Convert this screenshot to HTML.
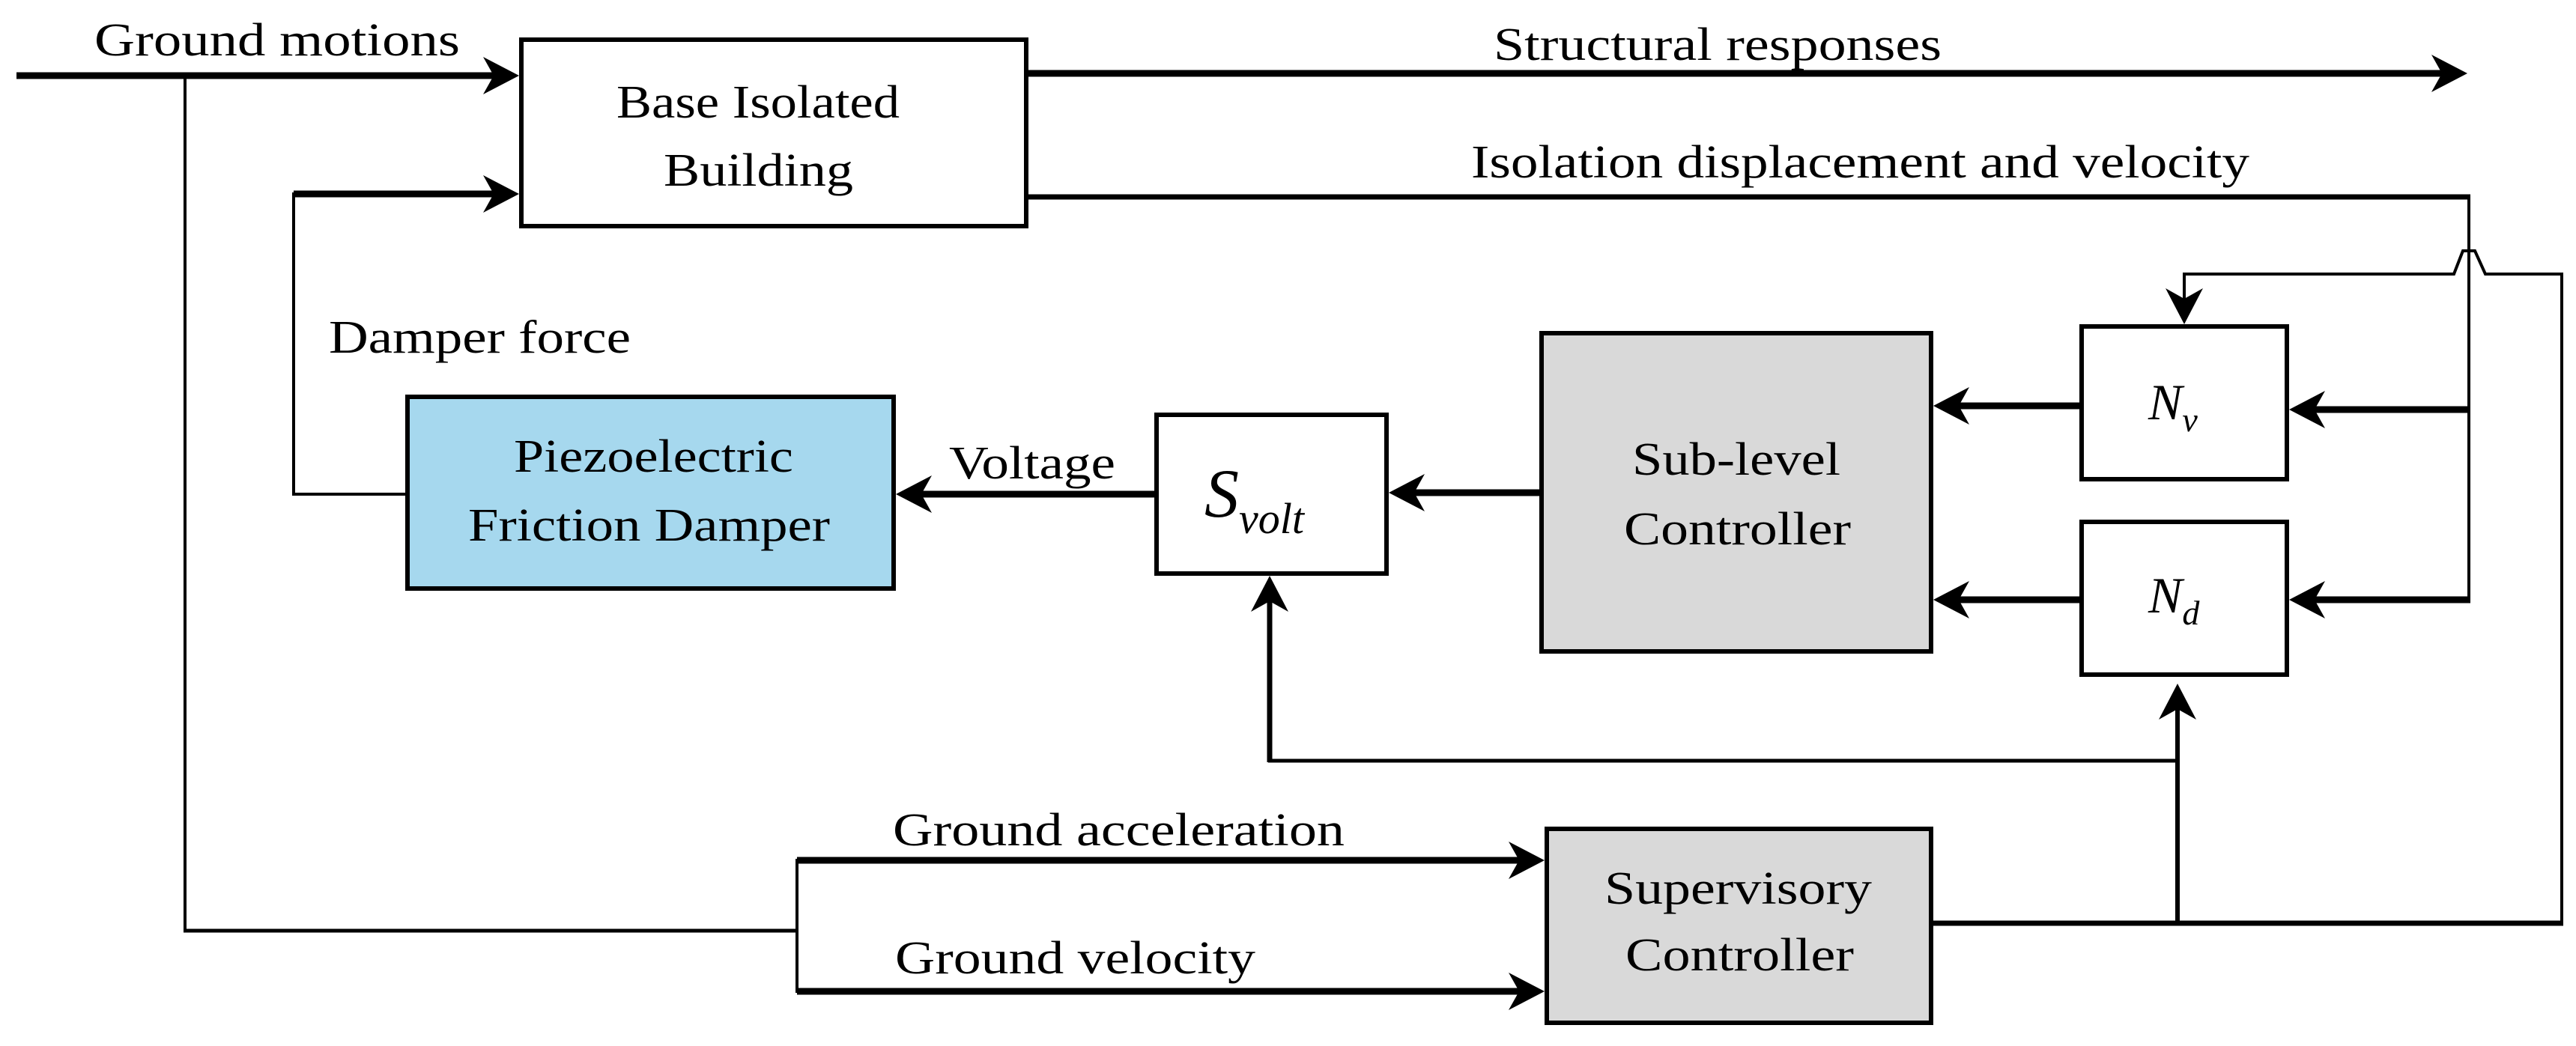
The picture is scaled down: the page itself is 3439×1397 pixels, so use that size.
<!DOCTYPE html>
<html><head><meta charset="utf-8"><style>
html,body{margin:0;padding:0;background:#fff;}
svg{display:block;}
text{font-family:"Liberation Serif",serif;font-size:62px;fill:#000;}
</style></head><body>
<svg width="3439" height="1397" viewBox="0 0 3439 1397" xmlns="http://www.w3.org/2000/svg">
<defs>
<path id="ar" d="M0,0 L-48,-25 L-34,0 L-48,25 Z" fill="#000"/>
</defs>
<g stroke="#000" fill="none" stroke-linecap="butt">
<line x1="22" y1="101" x2="660" y2="101" stroke-width="9"/>
<line x1="392" y1="259" x2="660" y2="259" stroke-width="9"/>
<line x1="1373" y1="98" x2="3260" y2="98" stroke-width="9"/>
<line x1="1373" y1="263" x2="3298" y2="263" stroke-width="7"/>
<line x1="1541" y1="660" x2="1230" y2="660" stroke-width="9"/>
<line x1="2055" y1="658" x2="1888" y2="658" stroke-width="9"/>
<line x1="2776" y1="542" x2="2615" y2="542" stroke-width="9"/>
<line x1="2776" y1="801" x2="2615" y2="801" stroke-width="9"/>
<line x1="3298" y1="547" x2="3090" y2="547" stroke-width="9"/>
<line x1="3298" y1="801" x2="3090" y2="801" stroke-width="9"/>
<line x1="1695" y1="1018" x2="1695" y2="800" stroke-width="7"/>
<line x1="1064" y1="1149" x2="2030" y2="1149" stroke-width="9"/>
<line x1="1064" y1="1324" x2="2030" y2="1324" stroke-width="9"/>
<line x1="2581" y1="1233" x2="3422" y2="1233" stroke-width="7"/>
<line x1="247" y1="101" x2="247" y2="1243" stroke-width="4"/>
<line x1="245" y1="1243" x2="1066" y2="1243" stroke-width="5"/>
<line x1="1064" y1="1147" x2="1064" y2="1326" stroke-width="4"/>
<polyline points="392,257 392,660 541,660" stroke-width="4"/>
<line x1="3296" y1="261" x2="3296" y2="803" stroke-width="4"/>
<polyline points="2916,420 2916,366 3276,366 3288,335 3304,335 3318,366 3420,366 3420,1235" stroke-width="4"/>
<line x1="2907" y1="1235" x2="2907" y2="945" stroke-width="6"/>
<line x1="1693" y1="1016" x2="2909" y2="1016" stroke-width="5"/>
<rect x="696" y="53" width="674" height="249" stroke-width="6" fill="#fff"/>
<rect x="544" y="530" width="649" height="256" stroke-width="6" fill="#a6d8ee"/>
<rect x="1544" y="554" width="307" height="212" stroke-width="6" fill="#fff"/>
<rect x="2058" y="445" width="520" height="425" stroke-width="6" fill="#d9d9d9"/>
<rect x="2779" y="436" width="274" height="204" stroke-width="6" fill="#fff"/>
<rect x="2779" y="697" width="274" height="204" stroke-width="6" fill="#fff"/>
<rect x="2065" y="1107" width="513" height="259" stroke-width="6" fill="#d9d9d9"/>
</g>
<use href="#ar" transform="translate(693,101)"/>
<use href="#ar" transform="translate(693,259)"/>
<use href="#ar" transform="translate(3294,98)"/>
<use href="#ar" transform="translate(2062,1149)"/>
<use href="#ar" transform="translate(2062,1324)"/>
<use href="#ar" transform="translate(1196,660) rotate(180)"/>
<use href="#ar" transform="translate(1854,658) rotate(180)"/>
<use href="#ar" transform="translate(2581,542) rotate(180)"/>
<use href="#ar" transform="translate(2581,801) rotate(180)"/>
<use href="#ar" transform="translate(3056,547) rotate(180)"/>
<use href="#ar" transform="translate(3056,801) rotate(180)"/>
<use href="#ar" transform="translate(2916,433) rotate(90)"/>
<use href="#ar" transform="translate(1695,769) rotate(-90)"/>
<use href="#ar" transform="translate(2907,913) rotate(-90)"/>
<text x="126" y="74" textLength="488" lengthAdjust="spacingAndGlyphs">Ground motions</text>
<text x="1994" y="80" textLength="598" lengthAdjust="spacingAndGlyphs">Structural responses</text>
<text x="1964" y="237" textLength="1039" lengthAdjust="spacingAndGlyphs">Isolation displacement and velocity</text>
<text x="823" y="157" textLength="378" lengthAdjust="spacingAndGlyphs">Base Isolated</text>
<text x="886" y="248" textLength="253" lengthAdjust="spacingAndGlyphs">Building</text>
<text x="439" y="471" textLength="403" lengthAdjust="spacingAndGlyphs">Damper force</text>
<text x="686" y="630" textLength="373" lengthAdjust="spacingAndGlyphs">Piezoelectric</text>
<text x="625" y="722" textLength="483" lengthAdjust="spacingAndGlyphs">Friction Damper</text>
<text x="1267" y="639" textLength="222" lengthAdjust="spacingAndGlyphs">Voltage</text>
<text x="2179" y="634" textLength="278" lengthAdjust="spacingAndGlyphs">Sub-level</text>
<text x="2168" y="727" textLength="303" lengthAdjust="spacingAndGlyphs">Controller</text>
<text x="2142" y="1207" textLength="357" lengthAdjust="spacingAndGlyphs">Supervisory</text>
<text x="2170" y="1296" textLength="305" lengthAdjust="spacingAndGlyphs">Controller</text>
<text x="1192" y="1129" textLength="603" lengthAdjust="spacingAndGlyphs">Ground acceleration</text>
<text x="1195" y="1300" textLength="481" lengthAdjust="spacingAndGlyphs">Ground velocity</text>
<text x="1608" y="690" style="font-style:italic;font-size:92px">S<tspan style="font-size:58px" dy="22">volt</tspan></text>
<text x="2868" y="560" style="font-style:italic;font-size:68px">N<tspan style="font-size:46px" dy="16">v</tspan></text>
<text x="2868" y="818" style="font-style:italic;font-size:68px">N<tspan style="font-size:46px" dy="16">d</tspan></text>
</svg>
</body></html>
